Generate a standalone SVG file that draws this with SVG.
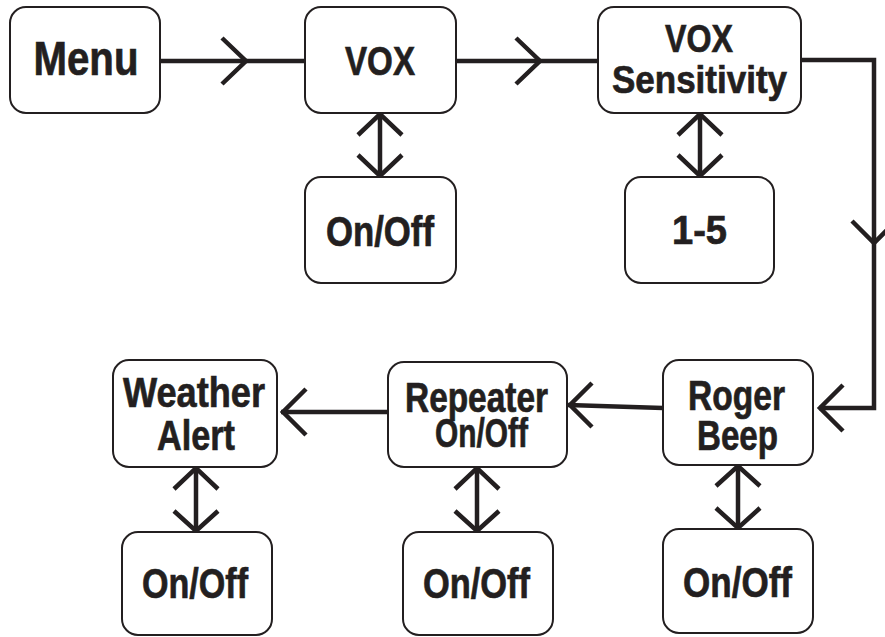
<svg xmlns="http://www.w3.org/2000/svg" width="885" height="637" viewBox="0 0 885 637">
<style>
.box{fill:#fff;stroke:#231f20;stroke-width:2}
.ln{fill:none;stroke:#231f20;stroke-width:4.5;stroke-linejoin:miter;stroke-linecap:butt}
.t{font-family:"Liberation Sans Narrow","Liberation Sans",Arial,sans-serif;font-weight:bold;fill:#231f20;stroke:#231f20;stroke-width:0.7;text-anchor:middle}
</style>
<rect width="885" height="637" fill="#fff"/>
<g id="connectors">
<path class="ln" d="M160,61 H305"/>
<path class="ln" d="M222,38 L246,61 L222,84"/>
<path class="ln" d="M456,61 H598"/>
<path class="ln" d="M516,38 L540,61 L516,84"/>
<path class="ln" d="M801,60 H874 V408 H819"/>
<path class="ln" d="M852,221 L874,243 L896,221"/>
<path class="ln" d="M843,385 L820,408 L843,431"/>
<path class="ln" d="M663,408 L568,405"/>
<path class="ln" d="M592,383 L570,405 L592,427"/>
<path class="ln" d="M388,412 H281"/>
<path class="ln" d="M306,389 L283,412 L306,435"/>
<path class="ln" d="M380,113 V177"/>
<path class="ln" d="M358,135 L380,114 L402,135 M358,155 L380,176 L402,155"/>
<path class="ln" d="M700,113 V177"/>
<path class="ln" d="M678,135 L700,114 L722,135 M678,155 L700,176 L722,155"/>
<path class="ln" d="M196,467 V532"/>
<path class="ln" d="M174,489 L196,468 L218,489 M174,511 L196,531 L218,511"/>
<path class="ln" d="M477,467 V532"/>
<path class="ln" d="M455,489 L477,468 L499,489 M455,511 L477,531 L499,511"/>
<path class="ln" d="M738,465 V529"/>
<path class="ln" d="M716,486 L738,466 L760,486 M716,508 L738,528 L760,508"/>
</g>
<g id="menu">
<rect class="box" x="10" y="7" width="150" height="106" rx="16"/>
<text class="t" x="86" y="75" font-size="48" textLength="105" lengthAdjust="spacingAndGlyphs">Menu</text>
</g>
<g id="vox">
<rect class="box" x="305" y="7" width="151" height="106" rx="16"/>
<text class="t" x="380" y="75" font-size="40" textLength="70" lengthAdjust="spacingAndGlyphs">VOX</text>
</g>
<g id="vox-sensitivity">
<rect class="box" x="598" y="7" width="203" height="106" rx="16"/>
<text class="t" x="699" y="52" font-size="39" textLength="68" lengthAdjust="spacingAndGlyphs">VOX</text>
<text class="t" x="699.5" y="93" font-size="39" textLength="175" lengthAdjust="spacingAndGlyphs">Sensitivity</text>
</g>
<g id="vox-onoff">
<rect class="box" x="305" y="177" width="151" height="106" rx="16"/>
<text class="t" x="380" y="246" font-size="42" textLength="108" lengthAdjust="spacingAndGlyphs">On/Off</text>
</g>
<g id="sens-range">
<rect class="box" x="625" y="177" width="149" height="106" rx="16"/>
<text class="t" x="699.5" y="244" font-size="40" textLength="55" lengthAdjust="spacingAndGlyphs">1-5</text>
</g>
<g id="roger-beep">
<rect class="box" x="663" y="360" width="150" height="105" rx="16"/>
<text class="t" x="736.5" y="410" font-size="42" textLength="97" lengthAdjust="spacingAndGlyphs">Roger</text>
<text class="t" x="737.5" y="450" font-size="42" textLength="81" lengthAdjust="spacingAndGlyphs">Beep</text>
</g>
<g id="repeater">
<rect class="box" x="388" y="362" width="179" height="105" rx="16"/>
<text class="t" x="476.5" y="412" font-size="42" textLength="143" lengthAdjust="spacingAndGlyphs">Repeater</text>
<text class="t" x="481.5" y="447" font-size="40" textLength="93" lengthAdjust="spacingAndGlyphs">On/Off</text>
</g>
<g id="weather-alert">
<rect class="box" x="113" y="360" width="164" height="107" rx="16"/>
<text class="t" x="194" y="407" font-size="43" textLength="142" lengthAdjust="spacingAndGlyphs">Weather</text>
<text class="t" x="196" y="450" font-size="43" textLength="78" lengthAdjust="spacingAndGlyphs">Alert</text>
</g>
<g id="weather-onoff">
<rect class="box" x="122" y="532" width="150" height="103" rx="16"/>
<text class="t" x="195" y="598" font-size="42" textLength="106" lengthAdjust="spacingAndGlyphs">On/Off</text>
</g>
<g id="repeater-onoff">
<rect class="box" x="403" y="532" width="150" height="103" rx="16"/>
<text class="t" x="476.5" y="598" font-size="42" textLength="107" lengthAdjust="spacingAndGlyphs">On/Off</text>
</g>
<g id="roger-onoff">
<rect class="box" x="663" y="529" width="150" height="104" rx="16"/>
<text class="t" x="737.5" y="597" font-size="42" textLength="109" lengthAdjust="spacingAndGlyphs">On/Off</text>
</g>
</svg>
